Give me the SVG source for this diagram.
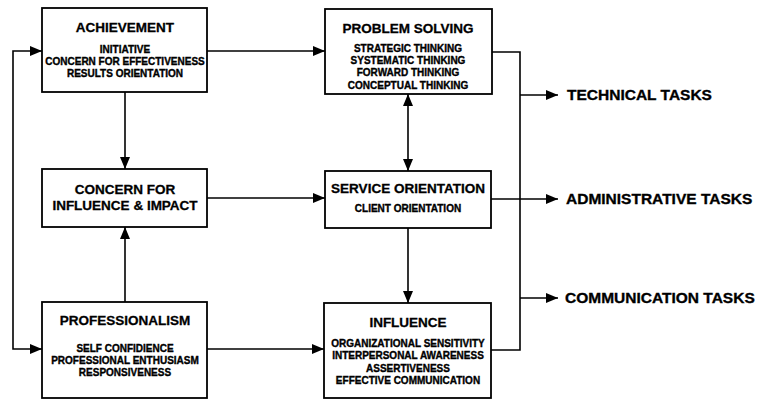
<svg xmlns="http://www.w3.org/2000/svg" width="761" height="400" viewBox="0 0 761 400">
<style>
.box{fill:#fff;stroke:#000;stroke-width:1.8}
.t{font-family:"Liberation Sans",Arial,sans-serif;font-weight:bold;font-size:13.5px;text-anchor:middle;fill:#000;stroke:#000;stroke-width:0.3}
.s{font-family:"Liberation Sans",Arial,sans-serif;font-weight:bold;font-size:10px;text-anchor:middle;fill:#000;stroke:#000;stroke-width:0.35}
.k{font-family:"Liberation Sans",Arial,sans-serif;font-weight:bold;font-size:15.5px;fill:#000;stroke:#000;stroke-width:0.35}
.c{fill:none;stroke:#000;stroke-width:1.6}
</style>
<defs>
<marker id="ah" markerUnits="userSpaceOnUse" markerWidth="12" markerHeight="10" refX="12" refY="5" orient="auto-start-reverse">
<path d="M0,0 L12,5 L0,10 Z" fill="#000"/>
</marker>
</defs>
<rect width="761" height="400" fill="#fff"/>
<g id="connectors">
<path class="c" d="M207,51 H325" marker-end="url(#ah)"/>
<path class="c" d="M125,92 V169" marker-end="url(#ah)"/>
<path class="c" d="M125,302 V227" marker-end="url(#ah)"/>
<path class="c" d="M42,51 H13 V349 H42" marker-start="url(#ah)" marker-end="url(#ah)"/>
<path class="c" d="M207,198 H325" marker-end="url(#ah)"/>
<path class="c" d="M408,94 V171" marker-start="url(#ah)" marker-end="url(#ah)"/>
<path class="c" d="M408,228 V303" marker-end="url(#ah)"/>
<path class="c" d="M207,349 H324" marker-end="url(#ah)"/>
<path class="c" d="M492,52 H520 V350 H491"/>
<path class="c" d="M491,199 H558" marker-end="url(#ah)"/>
<path class="c" d="M520,95 H558" marker-end="url(#ah)"/>
<path class="c" d="M520,298 H558" marker-end="url(#ah)"/>
</g>
<g id="achievement">
<rect class="box" x="42" y="8" width="165" height="84"/>
<text class="t" x="125" y="32">ACHIEVEMENT</text>
<text class="s" x="125" y="53">INITIATIVE</text>
<text class="s" x="125" y="65">CONCERN FOR EFFECTIVENESS</text>
<text class="s" x="125" y="77">RESULTS ORIENTATION</text>
</g>
<g id="problem-solving">
<rect class="box" x="325" y="9" width="167" height="85"/>
<text class="t" x="408" y="33">PROBLEM SOLVING</text>
<text class="s" x="408" y="52">STRATEGIC THINKING</text>
<text class="s" x="408" y="64">SYSTEMATIC THINKING</text>
<text class="s" x="408" y="76">FORWARD THINKING</text>
<text class="s" x="408" y="89">CONCEPTUAL THINKING</text>
</g>
<g id="concern-influence">
<rect class="box" x="42" y="169" width="165" height="58"/>
<text class="t" x="125" y="194">CONCERN FOR</text>
<text class="t" x="125" y="210">INFLUENCE &amp; IMPACT</text>
</g>
<g id="service-orientation">
<rect class="box" x="325" y="171" width="166" height="57"/>
<text class="t" x="408" y="193">SERVICE ORIENTATION</text>
<text class="s" x="408" y="212">CLIENT ORIENTATION</text>
</g>
<g id="professionalism">
<rect class="box" x="42" y="302" width="165" height="96"/>
<text class="t" x="125" y="325">PROFESSIONALISM</text>
<text class="s" x="125" y="352">SELF CONFIDIENCE</text>
<text class="s" x="125" y="364">PROFESSIONAL ENTHUSIASM</text>
<text class="s" x="125" y="376">RESPONSIVENESS</text>
</g>
<g id="influence">
<rect class="box" x="324" y="303" width="167" height="95"/>
<text class="t" x="408" y="327">INFLUENCE</text>
<text class="s" x="408" y="347">ORGANIZATIONAL SENSITIVITY</text>
<text class="s" x="408" y="359">INTERPERSONAL AWARENESS</text>
<text class="s" x="408" y="372">ASSERTIVENESS</text>
<text class="s" x="408" y="384">EFFECTIVE COMMUNICATION</text>
</g>
<g id="technical-tasks"><text class="k" x="567" y="100">TECHNICAL TASKS</text></g>
<g id="administrative-tasks"><text class="k" x="566" y="204">ADMINISTRATIVE TASKS</text></g>
<g id="communication-tasks"><text class="k" x="565" y="303">COMMUNICATION TASKS</text></g>
</svg>
